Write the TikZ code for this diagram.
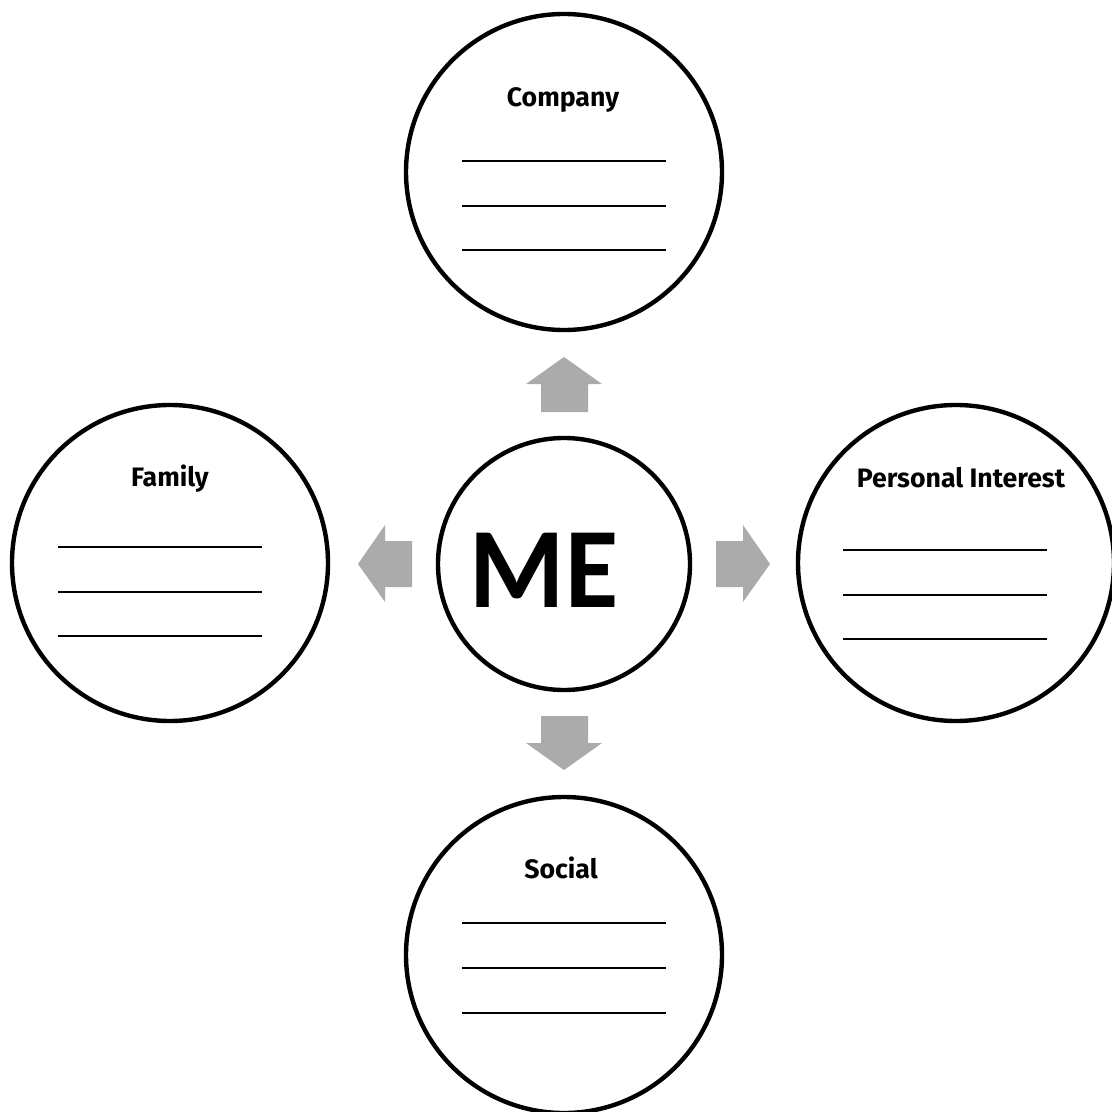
\documentclass[tikz,border=0pt]{standalone}
\usepackage{fontspec}
\setmainfont{Fira Sans}
\newfontfamily\mefont{Carlito}
\begin{document}
\begin{tikzpicture}[x=0.75pt,y=-0.75pt,
  ring/.style={circle,draw=black,line width=3.3pt,minimum size=316*0.75pt,inner sep=0pt},
  mering/.style={circle,draw=black,line width=3.3pt,minimum size=252*0.75pt,inner sep=0pt},
  ttl/.style={font=\bfseries\fontsize{20}{23}\selectfont,anchor=base},
  wline/.style={line width=1.6pt,black},
  garrow/.style={fill=black!33,draw=none}]
\useasboundingbox (0,0) rectangle (1111,1112);
\fill[white] (0,0) rectangle (1111,1112);
\node[ring] (company) at (564,172) {};
\node[ring] (family) at (170,563) {};
\node[ring] (personal) at (956,563) {};
\node[ring] (social) at (564,955) {};
\node[mering] (me) at (564,564) {};
\node[font=\mefont\bfseries\fontsize{86}{90}\selectfont,xscale=0.95] (metext) at (544,570) {ME};
% titles
\node[ttl] (tc) at (563,107) {Company};
\node[ttl] (tf) at (170,486) {Family};
\node[ttl] (tp) at (961,487) {Personal Interest};
\node[ttl] (ts) at (561,878) {Social};
% write lines
\foreach \y in {161,206,250} \draw[wline] (462,\y) -- (666,\y);
\foreach \y in {547,592,636} \draw[wline] (58,\y) -- (262,\y);
\foreach \y in {550,595,639} \draw[wline] (843,\y) -- (1047,\y);
\foreach \y in {923,968,1013} \draw[wline] (462,\y) -- (666,\y);
% gray arrows
\fill[garrow] (541,412) -- (541,384) -- (526,384) -- (564,357) -- (602,384) -- (588,384) -- (588,412) -- cycle;
\fill[garrow] (541,716) -- (541,743) -- (526,743) -- (564,770) -- (602,743) -- (588,743) -- (588,716) -- cycle;
\fill[garrow] (412,541) -- (385,541) -- (385,525) -- (358,564) -- (385,602) -- (385,587) -- (412,587) -- cycle;
\fill[garrow] (716,541) -- (743,541) -- (743,525) -- (770,564) -- (743,602) -- (743,587) -- (716,587) -- cycle;
\end{tikzpicture}
\end{document}
